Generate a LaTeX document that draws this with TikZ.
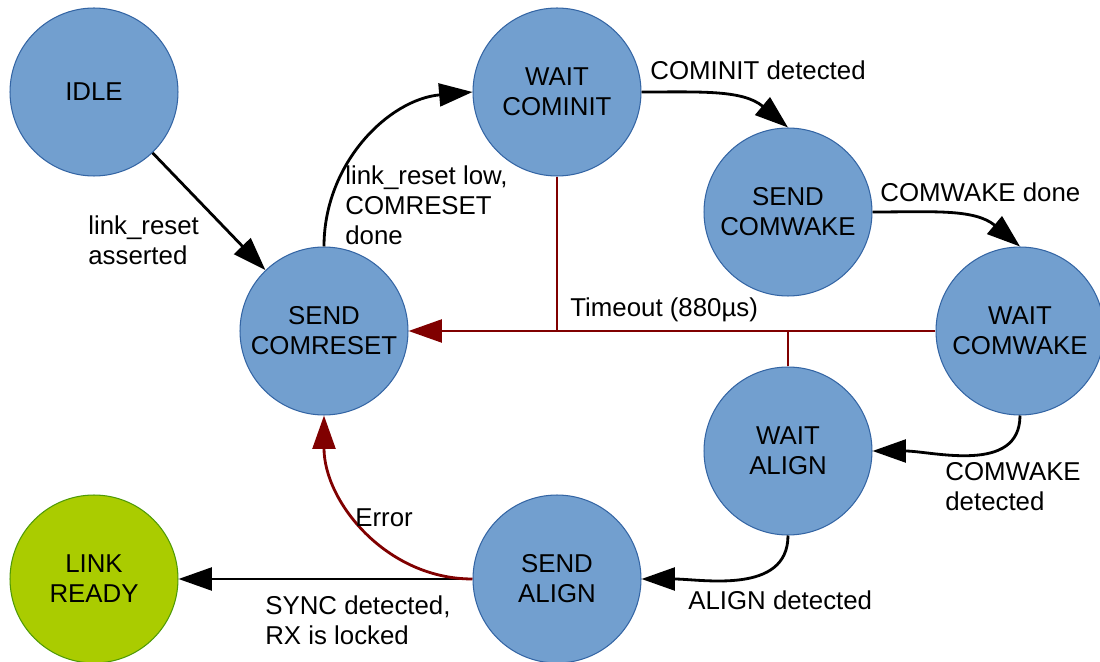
\documentclass[tikz,border=0pt]{standalone}
\usepackage{fontspec}
\setmainfont{Liberation Sans}
\usetikzlibrary{arrows.meta}
\definecolor{stateblue}{HTML}{729FCF}
\definecolor{stateline}{HTML}{3465A4}
\definecolor{readygreen}{HTML}{AACC00}
\definecolor{readyline}{HTML}{4E9A06}
\definecolor{errred}{HTML}{800000}

\begin{document}
\begin{tikzpicture}[x=0.02cm,y=0.02cm,
	every node/.style={font=\fontsize{14.7}{17}\selectfont},
	state/.style={circle,draw=stateline,fill=stateblue,line width=0.6pt,minimum size=3.36cm,inner sep=0pt,align=center},
	ready/.style={state,draw=readyline,fill=readygreen},
	trans/.style={line width=1.6pt,-{Triangle[length=19pt,width=13pt]}},
	fail/.style={trans,errred},
	lbl/.style={anchor=west,align=left,inner sep=0pt}]
	\useasboundingbox (0,0) rectangle (1100,-662);

	%states
	\node[state] (idle)         at (94,-92)   {IDLE};
	\node[state] (waitcominit)  at (557,-92)  {WAIT\\COMINIT};
	\node[state] (sendcomwake)  at (788,-212) {SEND\\COMWAKE};
	\node[state] (sendcomreset) at (324,-331) {SEND\\COMRESET};
	\node[state] (waitcomwake)  at (1020,-331){WAIT\\COMWAKE};
	\node[state] (waitalign)    at (788,-451) {WAIT\\ALIGN};
	\node[ready] (linkready)    at (94,-579)  {LINK\\READY};
	\node[state] (sendalign)    at (557,-579) {SEND\\ALIGN};

	%timeout back to SEND COMRESET
	\draw[fail] (waitcomwake.west) -- (sendcomreset.east);
	\draw[errred,line width=1.6pt] (waitcominit.south) -- (waitcominit.south |- sendcomreset.east);
	\draw[errred,line width=1.6pt] (waitalign.north) -- (waitalign.north |- waitcomwake.west);

	%normal transitions
	\draw[trans] (idle) -- (sendcomreset);
	\draw[trans] (sendcomreset.north) to[out=90,in=185] (waitcominit.west);
	\draw[trans] (waitcominit.east) to[out=0,in=140] (sendcomwake.north);
	\draw[trans] (sendcomwake.east) to[out=0,in=140] (waitcomwake.north);
	\draw[trans] (waitcomwake.south) to[out=-90,in=0] (waitalign.east);
	\draw[trans] (waitalign.south) to[out=-90,in=0] (sendalign.east);
	\draw[trans] (sendalign.west) -- (linkready.east);
	\draw[fail] (sendalign.west) to[out=180,in=-90] (sendcomreset.south); %error

	%labels
	\node[lbl] (assertlbl)  at (88,-240)  {link\_reset\\asserted};
	\node[lbl] (lowlbl)     at (345,-205) {link\_reset low,\\COMRESET\\done};
	\node[lbl] (cominitlbl) at (650,-70)  {COMINIT detected};
	\node[lbl] (wakedonelbl) at (880,-192) {COMWAKE done};
	\node[lbl] (wakedetlbl) at (945,-487) {COMWAKE\\detected};
	\node[lbl] (alignlbl)   at (688,-600) {ALIGN detected};
	\node[lbl] (synclbl)    at (265,-620) {SYNC detected,\\RX is locked};
	\node[lbl] (errlbl)     at (355,-518) {Error};
	\node[lbl] (timeoutlbl) at (570,-310) {Timeout (880µs)};
\end{tikzpicture}
\end{document}
